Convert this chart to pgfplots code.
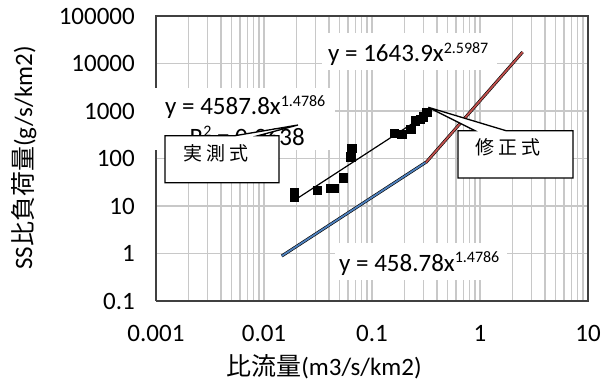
\documentclass[border=0pt]{standalone}
\usepackage{fontspec}
\setmainfont{Carlito}
\newfontfamily\jp{Noto Sans CJK JP}
\usepackage{pgfplots}
\pgfplotsset{compat=1.18}

\definecolor{gridc}{HTML}{C8C8C8}
\definecolor{framec}{HTML}{404040}
\definecolor{fitblue}{HTML}{4F81BD}
\definecolor{fitred}{HTML}{C0504D}

\newcommand{\lbl}{\fontsize{25bp}{29bp}\selectfont}
\newcommand{\sups}[1]{\raisebox{8.5bp}{\fontsize{16bp}{18bp}\selectfont #1}}
\newcommand{\cjkbox}{\fontsize{19bp}{22bp}\selectfont\jp}

\begin{document}
\lbl
\begin{tikzpicture}
% page frame (invisible), sets the picture size
\path (0,0) rectangle (603bp,-390bp);
\begin{axis}[
  at={(156bp,-301bp)}, anchor=south west,
  scale only axis, width=432bp, height=285bp,
  xmode=log, ymode=log,
  xmin=0.001, xmax=10, ymin=0.1, ymax=100000,
  xtick={0.001,0.01,0.1,1,10},
  xticklabels={0.001,0.01,0.1,1,10},
  ytick={0.1,1,10,100,1000,10000,100000},
  yticklabels={0.1,1,10,100,1000,10000,100000},
  major tick length=0pt, minor tick length=0pt,
  axis line style={draw=none},
  ticklabel style={font=\lbl},
  xticklabel style={inner sep=0pt, anchor=north, yshift=-24bp},
  yticklabel style={inner sep=0pt, anchor=east, xshift=-21bp},
  clip=false,
]
% vertical grid: every decade and its 2..9 subdivisions
\pgfplotsinvokeforeach{0.002,0.003,0.004,0.005,0.006,0.007,0.008,0.009,
                       0.01,0.02,0.03,0.04,0.05,0.06,0.07,0.08,0.09,
                       0.1,0.2,0.3,0.4,0.5,0.6,0.7,0.8,0.9,
                       1,2,3,4,5,6,7,8,9}{
  \addplot[gridc, line width=1.2bp, forget plot] coordinates {(#1,0.1) (#1,100000)};
}
% horizontal grid: decades only
\pgfplotsinvokeforeach{1,10,100,1000,10000}{
  \addplot[gridc, line width=1.2bp, forget plot] coordinates {(0.001,#1) (10,#1)};
}
% measured points
\addplot[only marks, mark=square*, mark size=4.2bp, black] coordinates {
  (0.0190,15.7) (0.0190,19.2) (0.0310,21.7) (0.0408,23.9) (0.0445,23.9)
  (0.0538,39.5) (0.0636,109) (0.0649,164) (0.160,340) (0.188,323)
  (0.228,418) (0.250,625) (0.278,679) (0.299,759) (0.322,940)
};
% power fit of the measured points: y = 4587.8 x^1.4786
\addplot[black, line width=1.2bp] coordinates {(0.0195,13.59) (0.322,858.8)};
% corrected relation, lower branch: y = 458.78 x^1.4786 (black edge, blue core)
\addplot[black, line width=3.0bp] coordinates {(0.0146,0.886) (0.316,83.53)};
\addplot[fitblue, line width=1.8bp] coordinates {(0.0146,0.886) (0.316,83.53)};
% corrected relation, upper branch: y = 1643.9 x^2.5987
\addplot[black, line width=3.0bp] coordinates {(0.316,82.36) (2.48,17417)};
\addplot[fitred, line width=1.8bp] coordinates {(0.316,82.36) (2.48,17417)};
% plot-area border
\addplot[framec, line width=1.2bp, forget plot] coordinates {
  (0.001,0.1) (10,0.1) (10,100000) (0.001,100000) (0.001,0.1)};
\end{axis}

\begin{scope}[x=1bp, y=-1bp]
  % axis titles
  \node[anchor=base, inner sep=0pt] at (324,375) {{\jp 比流量}(m3/s/km2)};
  \node[anchor=base, inner sep=0pt, rotate=90] at (32,158) {SS{\jp 比負荷量}(g/s/km2)};

  % trend-line labels
  \fill[white] (152,88) rectangle (335,150);
  \node[anchor=base west, inner sep=0pt] at (165,114.5) {y = 4587.8x\sups{1.4786}};
  \node[anchor=base east, inner sep=0pt] at (305,145) {R\sups{2} = 0.9638};

  \fill[white] (322,33) rectangle (497,70);
  \node[anchor=base west, inner sep=0pt] at (328,61.7) {y = 1643.9x\sups{2.5987}};

  \fill[white] (335,243) rectangle (507,280);
  \node[anchor=base west, inner sep=0pt] at (339,271) {y = 458.78x\sups{1.4786}};

  % callouts
  \filldraw[fill=white, draw=black, line width=1.3bp, line join=miter]
    (165,135.7) -- (235,135.7) -- (298,125) -- (258,135.7) -- (279,135.7)
    -- (279,182.7) -- (165,182.7) -- cycle;
  \node[inner sep=0pt] at (216,153) {\cjkbox 実\hspace{4.5bp}測\hspace{4.5bp}式};

  \filldraw[fill=white, draw=black, line width=1.3bp, line join=miter]
    (458,130.7) -- (475,130.7) -- (428.3,107.3) -- (506,130.7) -- (573,130.7)
    -- (573,178) -- (458,178) -- cycle;
  \node[inner sep=0pt] at (508,147) {\cjkbox 修\hspace{4.5bp}正\hspace{4.5bp}式};
\end{scope}
\end{tikzpicture}
\end{document}
